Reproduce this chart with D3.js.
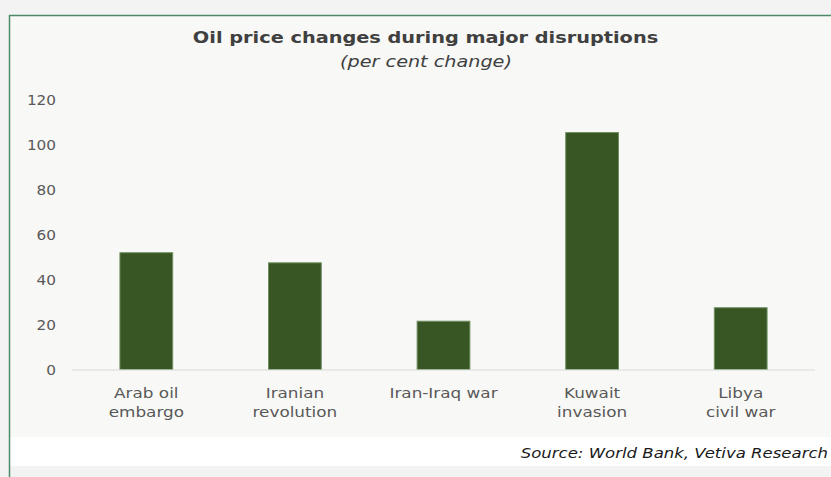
<!DOCTYPE html>
<html>
<head>
<meta charset="utf-8">
<script src="https://cdn.jsdelivr.net/npm/d3@7"></script>
<style>
  html, body { margin: 0; padding: 0; background: #f4f4f4; }
  svg { display: block; }
</style>
</head>
<body>
<svg id="chart" width="831" height="477"></svg>
<script>
// Oil price moves (% change) in major supply disruptions
const categories = [
  ["Arab oil", "embargo"],
  ["Iranian", "revolution"],
  ["Iran-Iraq war"],
  ["Kuwait", "invasion"],
  ["Libya", "civil war"]
];
const values = [52, 47.5, 21.5, 105.5, 27.5];
const yTicks = [0, 20, 40, 60, 80, 100, 120];

const title = "Oil price changes during major disruptions";
const subtitle = "(per cent change)";
const source = "Source: World Bank, Vetiva Research";

const svg = d3.select("#chart");
const W = 831, H = 477;
const font = "'DejaVu Sans', Verdana, sans-serif";

// Widen glyphs horizontally (Verdana-like proportions) by a given factor
function widen(sel, factor) {
  sel.each(function() {
    const len = this.getComputedTextLength();
    d3.select(this).attr("textLength", len * factor).attr("lengthAdjust", "spacingAndGlyphs");
  });
}

// page backdrop and framed panel
svg.append("rect").attr("width", W).attr("height", H).attr("fill", "#f3f3f3");
svg.append("rect").attr("x", 10).attr("y", 15).attr("width", W + 20).attr("height", 451)
  .attr("fill", "#ffffff");
svg.append("rect").attr("x", 10).attr("y", 15).attr("width", W + 20).attr("height", 422)
  .attr("fill", "#f8f8f6");
svg.append("line").attr("x1", 9.5).attr("x2", 9.5).attr("y1", 15).attr("y2", H)
  .attr("stroke", "#4b8b6a").attr("stroke-width", 1.5);
svg.append("line").attr("x1", 9).attr("x2", W).attr("y1", 15.5).attr("y2", 15.5)
  .attr("stroke", "#4b8b6a").attr("stroke-width", 1.5);

// titles
svg.append("text").attr("x", 425.5).attr("y", 42.5).attr("text-anchor", "middle")
  .attr("font-family", font).attr("font-weight", "bold").attr("font-size", 16.5)
  .attr("fill", "#404040").text(title)
  .call(widen, 1.17);
svg.append("text").attr("x", 426).attr("y", 67).attr("text-anchor", "middle")
  .attr("font-family", font).attr("font-style", "italic").attr("font-size", 16)
  .attr("fill", "#404040").text(subtitle)
  .call(widen, 1.2);

// scales
const x = d3.scaleBand()
  .domain(categories.map(c => c.join(" ")))
  .range([72, 815])
  .paddingInner(0.645)
  .paddingOuter(0.3225);
const y = d3.scaleLinear().domain([0, 120]).range([369.5, 100]);

// y axis labels (no axis line or ticks)
const yAxis = svg.append("g").attr("transform", "translate(56,0)")
  .call(d3.axisLeft(y).tickValues(yTicks).tickSize(0).tickPadding(0));
yAxis.select(".domain").remove();
yAxis.selectAll("text")
  .attr("font-family", font).attr("font-size", 14).attr("fill", "#595959")
  .attr("dy", "0.35em")
  .call(widen, 1.09);

// bars
svg.append("g").selectAll("rect")
  .data(values)
  .join("rect")
  .attr("x", (d, i) => x(categories[i].join(" ")))
  .attr("width", x.bandwidth())
  .attr("y", d => y(d))
  .attr("height", d => y(0) - y(d))
  .attr("fill", "#375623")
  .attr("stroke", "#6f8f62")
  .attr("stroke-width", 1);

// baseline
svg.append("line").attr("x1", 72).attr("x2", 815).attr("y1", y(0) + 0.5).attr("y2", y(0) + 0.5)
  .attr("stroke", "#d9d9d9").attr("stroke-width", 1);

// category labels
const xAxis = svg.append("g").attr("transform", `translate(0,${y(0)})`)
  .call(d3.axisBottom(x).tickSize(0).tickFormat(""));
xAxis.select(".domain").remove();
xAxis.selectAll(".tick").each(function(d, i) {
  const t = d3.select(this).append("text")
    .attr("font-family", font).attr("font-size", 14.5).attr("fill", "#595959")
    .attr("text-anchor", "middle").attr("y", 28);
  categories[i].forEach((line, k) => {
    t.append("tspan").attr("x", 0).attr("dy", k === 0 ? 0 : 19).text(line);
  });
});
xAxis.selectAll("tspan").call(widen, 1.16);

// source note
svg.append("text").attr("x", 828).attr("y", 458).attr("text-anchor", "end")
  .attr("font-family", font).attr("font-style", "italic").attr("font-size", 14.5)
  .attr("fill", "#1a1a1a").text(source)
  .call(widen, 1.14);
</script>
</body>
</html>
